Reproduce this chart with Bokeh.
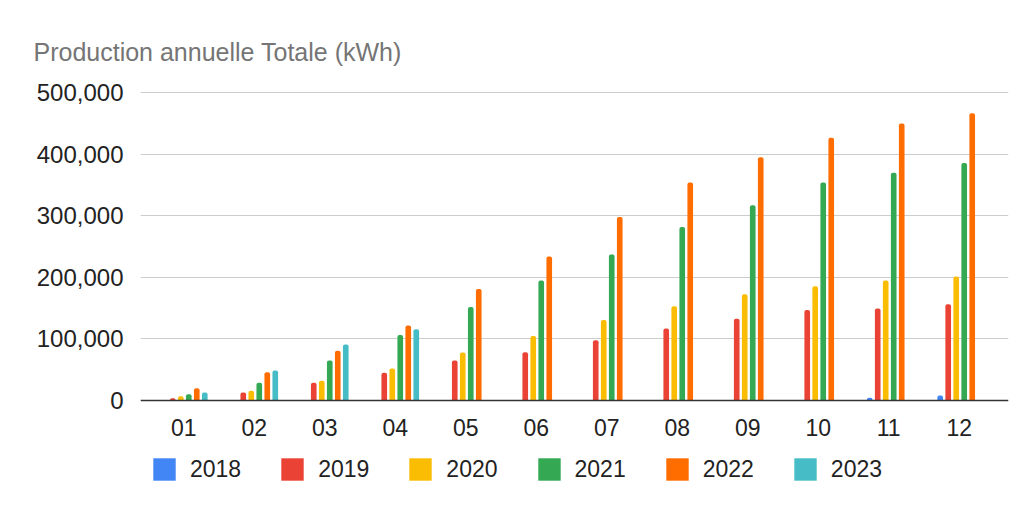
from bokeh.plotting import figure
from bokeh.models import (ColumnDataSource, Range1d, FixedTicker, NumeralTickFormatter,
                          Legend, LegendItem, Title, Span)
from bokeh.core.properties import value
from bokeh.transform import dodge
from bokeh.embed import file_html
from bokeh.resources import INLINE

months = ["01", "02", "03", "04", "05", "06", "07", "08", "09", "10", "11", "12"]
years = ["2018", "2019", "2020", "2021", "2022", "2023"]
y2018 = [None, None, None, None, None, None, None, None, None, 1000, 4500, 8000]
y2019 = [3800, 13000, 29000, 45000, 65000, 78500, 98000, 117000, 133000, 147000, 149500, 156500]
y2020 = [7000, 16000, 32000, 52000, 78000, 104800, 130600, 153000, 172600, 185500, 195000, 201600]
y2021 = [10000, 29000, 65000, 106500, 152000, 195000, 237000, 282000, 317000, 354000, 370000, 386000]
y2022 = [20000, 46000, 81000, 122000, 181000, 234000, 298000, 354000, 395000, 427000, 450000, 466600]
y2023 = [13000, 48600, 91000, 115600, None, None, None, None, None, None, None, None]
series = [y2018, y2019, y2020, y2021, y2022, y2023]
colors = ["#4285F4", "#EA4335", "#FBBC04", "#34A853", "#FF6D01", "#46BDC6"]
y_ticks = [0, 100000, 200000, 300000, 400000, 500000]

FONT = "Liberation Sans"

# frame extends below the zero line so the legend can live inside it
p = figure(width=1016, height=498, frame_width=868, frame_height=405,
           output_backend="svg", toolbar_location=None,
           x_range=Range1d(0.372, 12.685), y_range=Range1d(-155960, 502000),
           min_border_left=140, min_border_right=8, min_border_top=91, min_border_bottom=2)
p.outline_line_color = None
p.background_fill_color = "white"
p.border_fill_color = "white"

p.title = Title(text="Production annuelle Totale (kWh)", align="left", offset=-107,
                standoff=52, text_font=FONT, text_font_size="25px",
                text_font_style="normal", text_color="#757575")

xs = list(range(1, len(months) + 1))
step = 0.1135
items = []
for i, (yr, vals, col) in enumerate(zip(years, series, colors)):
    px = [x for x, v in zip(xs, vals) if v is not None]
    pv = [v for v in vals if v is not None]
    src = ColumnDataSource(dict(x=px, top=pv))
    r = p.vbar(x=dodge("x", (i - 2.5) * step), top="top", width=0.08, source=src,
               fill_color=col, line_color=None, border_radius=(2, 2, 0, 0))
    items.append(LegendItem(label=yr, renderers=[r]))

# baseline (x axis line) and month labels
p.xaxis.visible = False
p.add_layout(Span(location=0, dimension="width", line_color="#333333", line_width=1.5))
lab_src = ColumnDataSource(dict(x=xs, y=[0] * len(xs), t=months))
p.text(x="x", y="y", text="t", source=lab_src, y_offset=27, x_offset=-1,
       text_align="center", text_baseline="middle", text_font=value(FONT),
       text_font_size="23px", text_color="#222222")

p.yaxis.ticker = FixedTicker(ticks=y_ticks)
p.yaxis.formatter = NumeralTickFormatter(format="0,0")
p.yaxis.axis_line_color = None
p.yaxis.major_tick_line_color = None
p.yaxis.minor_tick_line_color = None
p.yaxis.major_label_text_font = FONT
p.yaxis.major_label_text_font_size = "24px"
p.yaxis.major_label_text_color = "#222222"
p.yaxis.major_label_standoff = 11

p.xgrid.grid_line_color = None
p.ygrid.ticker = FixedTicker(ticks=y_ticks)
p.ygrid.grid_line_color = "#cccccc"
p.ygrid.grid_line_width = 1

legend = Legend(items=items, orientation="horizontal", location=(10, 13),
                glyph_width=28, glyph_height=28, label_height=28, label_standoff=12,
                spacing=37, padding=0, margin=0, border_line_color=None,
                background_fill_alpha=0, label_text_font=FONT,
                label_text_font_size="23px", label_text_color="#222222")
p.add_layout(legend, "center")

open("out.html", "w").write(file_html(p, INLINE))
